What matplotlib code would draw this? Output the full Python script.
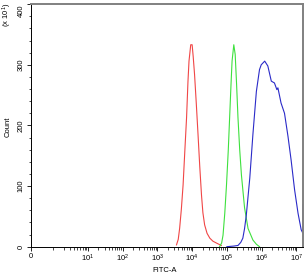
import numpy as np
import matplotlib
matplotlib.use("Agg")
import matplotlib.pyplot as plt

plt.rcParams['font.family'] = ['Liberation Sans', 'DejaVu Sans']
plt.rcParams['mathtext.default'] = 'regular'

# x values are log10(FITC-A); "0" sits at the left edge (biexponential-style axis)
X_ZERO = -0.64
X_MAX = 7.2

red_x = [3.55, 3.60, 3.64, 3.69, 3.74, 3.79, 3.84, 3.88, 3.91, 3.96, 4.00, 4.03, 4.07, 4.12,
         4.17, 4.22, 4.27, 4.31, 4.36, 4.43, 4.51, 4.60, 4.70, 4.84]
red_y = [3, 12, 30, 62, 102, 158, 213, 272, 306, 333, 333, 314, 284, 236,
         185, 132, 85, 56, 36, 22, 14, 9, 6, 2]

green_x = [4.79, 4.85, 4.89, 4.94, 4.99, 5.04, 5.08, 5.12, 5.15, 5.20, 5.24, 5.28, 5.32, 5.37,
           5.42, 5.51, 5.61, 5.75, 5.85, 5.94]
green_y = [0, 6, 19, 55, 102, 158, 213, 268, 306, 333, 317, 268, 213, 160,
           118, 64, 30, 11, 4, 0]

blue_x = [5.00, 5.20, 5.32, 5.40, 5.46, 5.51, 5.56, 5.66, 5.75, 5.85, 5.94, 5.99, 6.09, 6.18,
          6.28, 6.37, 6.44, 6.47, 6.56, 6.66, 6.76, 6.85, 6.95, 7.05, 7.14, 7.19, 7.19]
blue_y = [0, 1, 2, 7, 14, 30, 52, 113, 185, 256, 292, 300, 306, 298,
          273, 270, 259, 262, 237, 220, 182, 143, 94, 55, 28, 22, 69]

decades = [1, 2, 3, 4, 5, 6, 7]
y_major = [0, 100, 200, 300, 400]

fig = plt.figure(figsize=(3.08, 2.75), dpi=100)
ax = fig.add_axes([0.1006, 0.103, 0.884, 0.882])

ax.plot(red_x, red_y, color='#f04646', lw=0.8)
ax.plot(green_x, green_y, color='#3ee03e', lw=0.8)
ax.plot(blue_x, blue_y, color='#2a2ac8', lw=0.8)

ax.set_xlim(X_ZERO, X_MAX)
ax.set_ylim(0, 400)

ax.set_xticks([X_ZERO] + decades)
ax.set_xticklabels(['0'] + ['$10^{%d}$' % d for d in decades])
minor_x = [np.log10(m * 10.0 ** k) for k in range(0, 7) for m in range(1, 10)]
minor_x = [v for v in minor_x if X_ZERO < v < X_MAX and v not in decades]
ax.set_xticks(minor_x, minor=True)

ax.set_yticks(y_major)
ax.set_yticklabels([str(v) for v in y_major], rotation=90, va='center')
ax.get_yticklabels()[-1].set_va('top')
ax.set_yticks(np.arange(0, 401, 20), minor=True)

ax.tick_params(axis='both', which='major', direction='out', length=3, width=0.6,
               labelsize=5.5, pad=1.5, color='black')
ax.tick_params(axis='both', which='minor', direction='out', length=1.8, width=0.5,
               color='black')

for s in ['left', 'bottom']:
    ax.spines[s].set_color('black')
    ax.spines[s].set_linewidth(0.7)
for s in ['top', 'right']:
    ax.spines[s].set_color('#808080')
    ax.spines[s].set_linewidth(1.4)

fig.text(0.025, 0.54, 'Count', rotation=90, fontsize=5.5, ha='center', va='center')
fig.text(0.025, 0.99, '(x 10$^{1}$)', rotation=90, fontsize=5.5, ha='center', va='top')
fig.text(0.535, 0.018, 'FITC-A', fontsize=5.5, ha='center', va='center')

fig.savefig('out.png', dpi=100)
